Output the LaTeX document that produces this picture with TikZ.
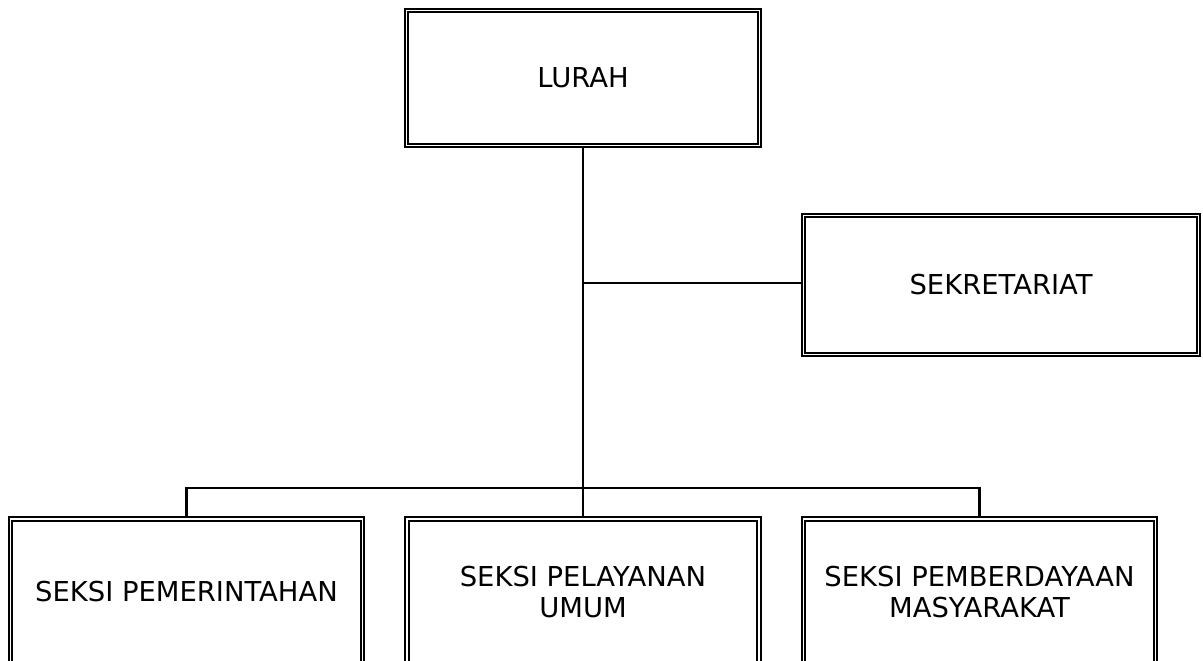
\documentclass[tikz,border=0pt]{standalone}
\usepackage{fontspec}
\setmainfont{DejaVu Sans}
\tikzset{
	unitbox/.style={draw=black, line width=1.1pt, double=white, double distance=0.9pt,
		minimum width=7.04cm, minimum height=2.92cm, align=center, inner sep=0pt,
		font=\fontsize{15.6}{18.2}\selectfont},
	link/.style={draw=black, line width=1.2pt}
}
\begin{document}
\begin{tikzpicture}[x=0.02cm, y=-0.02cm]
		\clip (0,0) rectangle (1203,660);
		\node[unitbox, minimum width=7.06cm, minimum height=2.7cm] (lurah) at (583,78) {LURAH};
		\node[unitbox, minimum width=7.9cm, minimum height=2.78cm] (sekretariat) at (1001,285) {SEKRETARIAT};
		\node[unitbox] (pemerintahan) at (186.5,592) {SEKSI PEMERINTAHAN};
		\node[unitbox] (pelayanan) at (583,592) {SEKSI PELAYANAN\\UMUM};
		\node[unitbox] (pemberdayaan) at (979.5,592) {SEKSI PEMBERDAYAAN\\MASYARAKAT};
		\coordinate (cabang) at (583,488);
		\coordinate (sek) at (583,283);
		\draw[link] (lurah.south) -- (cabang);
		\draw[link] (sek) -- (sek -| sekretariat.west);
		\draw[link] (pemerintahan.north) -- (pemerintahan.north |- cabang) -- (pemberdayaan.north |- cabang) -- (pemberdayaan.north);
		\draw[link] (cabang) -- (pelayanan.north);
	\end{tikzpicture}
\end{document}
